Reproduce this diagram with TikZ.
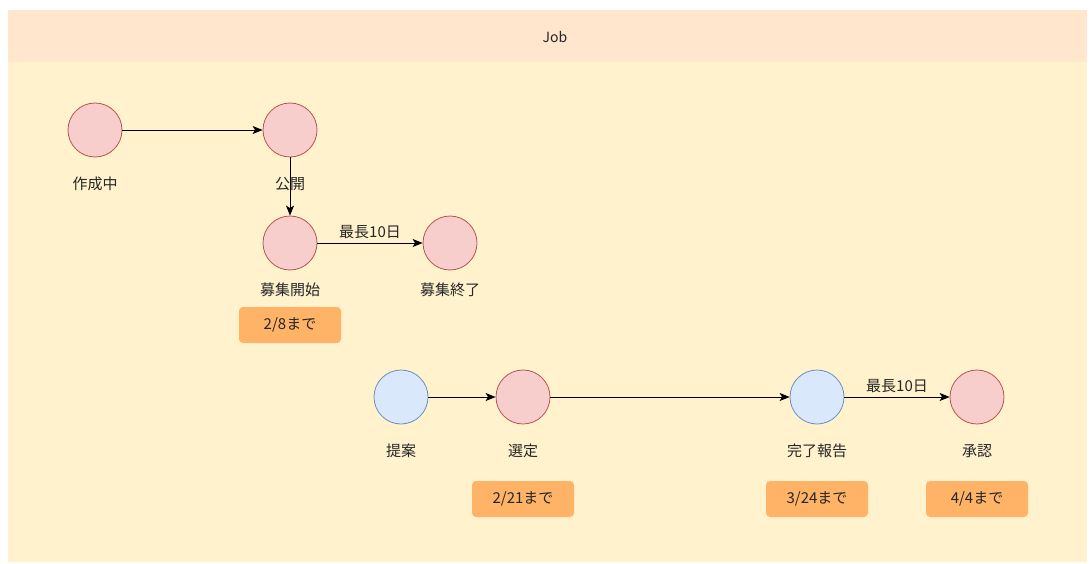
\documentclass[tikz,border=0pt]{standalone}
\usepackage{fontspec}
\setmainfont{Noto Sans CJK JP}
\usetikzlibrary{arrows.meta,positioning}
\definecolor{jobfill}{HTML}{FFF2CC}
\definecolor{jobhead}{HTML}{FFE6CC}
\definecolor{pinkfill}{HTML}{F8CECC}
\definecolor{pinkline}{HTML}{B85450}
\definecolor{bluefill}{HTML}{DAE8FC}
\definecolor{blueline}{HTML}{6C8EBF}
\definecolor{duefill}{HTML}{FFB366}

\tikzset{
  state/.style={circle, minimum size=54pt, inner sep=0pt, fill=pinkfill, draw=pinkline, line width=0.8pt},
  actor/.style={state, fill=bluefill, draw=blueline},
  caption/.style={font=\fontsize{15}{17}\selectfont, text=black!85},
  due/.style={rounded corners=4pt, fill=duefill, minimum width=102pt, minimum height=36pt, font=\fontsize{15}{17}\selectfont, text=black!85},
  flow/.style={-{Stealth[length=10pt,width=8pt,inset=2.5pt]}, line width=0.9pt}
}

\begin{document}
\begin{tikzpicture}[x=1pt, y=-1pt]
  \useasboundingbox (0,0) rectangle (1091,564);
  % container
  \fill[white] (0,0) rectangle (1091,564);
  \fill[jobfill] (8,10) rectangle (1087,562);
  \fill[jobhead] (8,10) rectangle (1087,62);
  \node[caption, font=\fontsize{14}{16}\selectfont] (job) at (555,37) {Job};

  % job states
  \node[state] (draft) at (95,130) {};
  \node[caption] (draftlbl) at (95,184) {作成中};
  \node[state] (public) at (290,130) {};
  \node[caption] (publiclbl) at (290,184) {公開};
  \node[state] (open) at (290,243) {};
  \node[caption] (openlbl) at (290,290) {募集開始};
  \node[state] (closed) at (450,243) {};
  \node[caption] (closedlbl) at (450,290) {募集終了};
  \node[due] (due1) at (290,325) {2/8まで};

  % proposal flow
  \node[actor] (propose) at (401,397) {};
  \node[caption] (proposelbl) at (401,451) {提案};
  \node[state] (select) at (523,397) {};
  \node[caption] (selectlbl) at (523,451) {選定};
  \node[actor] (report) at (817,397) {};
  \node[caption] (reportlbl) at (817,451) {完了報告};
  \node[state] (approve) at (977,397) {};
  \node[caption] (approvelbl) at (977,451) {承認};
  \node[due] (due2) at (523,499) {2/21まで};
  \node[due] (due3) at (817,499) {3/24まで};
  \node[due] (due4) at (977,499) {4/4まで};

  % connectors
  \draw[flow] (draft) -- (public);
  \draw[flow] (public) -- (open);
  \draw[flow] (open) -- node[caption, above=0pt] {最長10日} (closed);
  \draw[flow] (propose) -- (select);
  \draw[flow] (select) -- (report);
  \draw[flow] (report) -- node[caption, above=0pt] {最長10日} (approve);
\end{tikzpicture}
\end{document}
